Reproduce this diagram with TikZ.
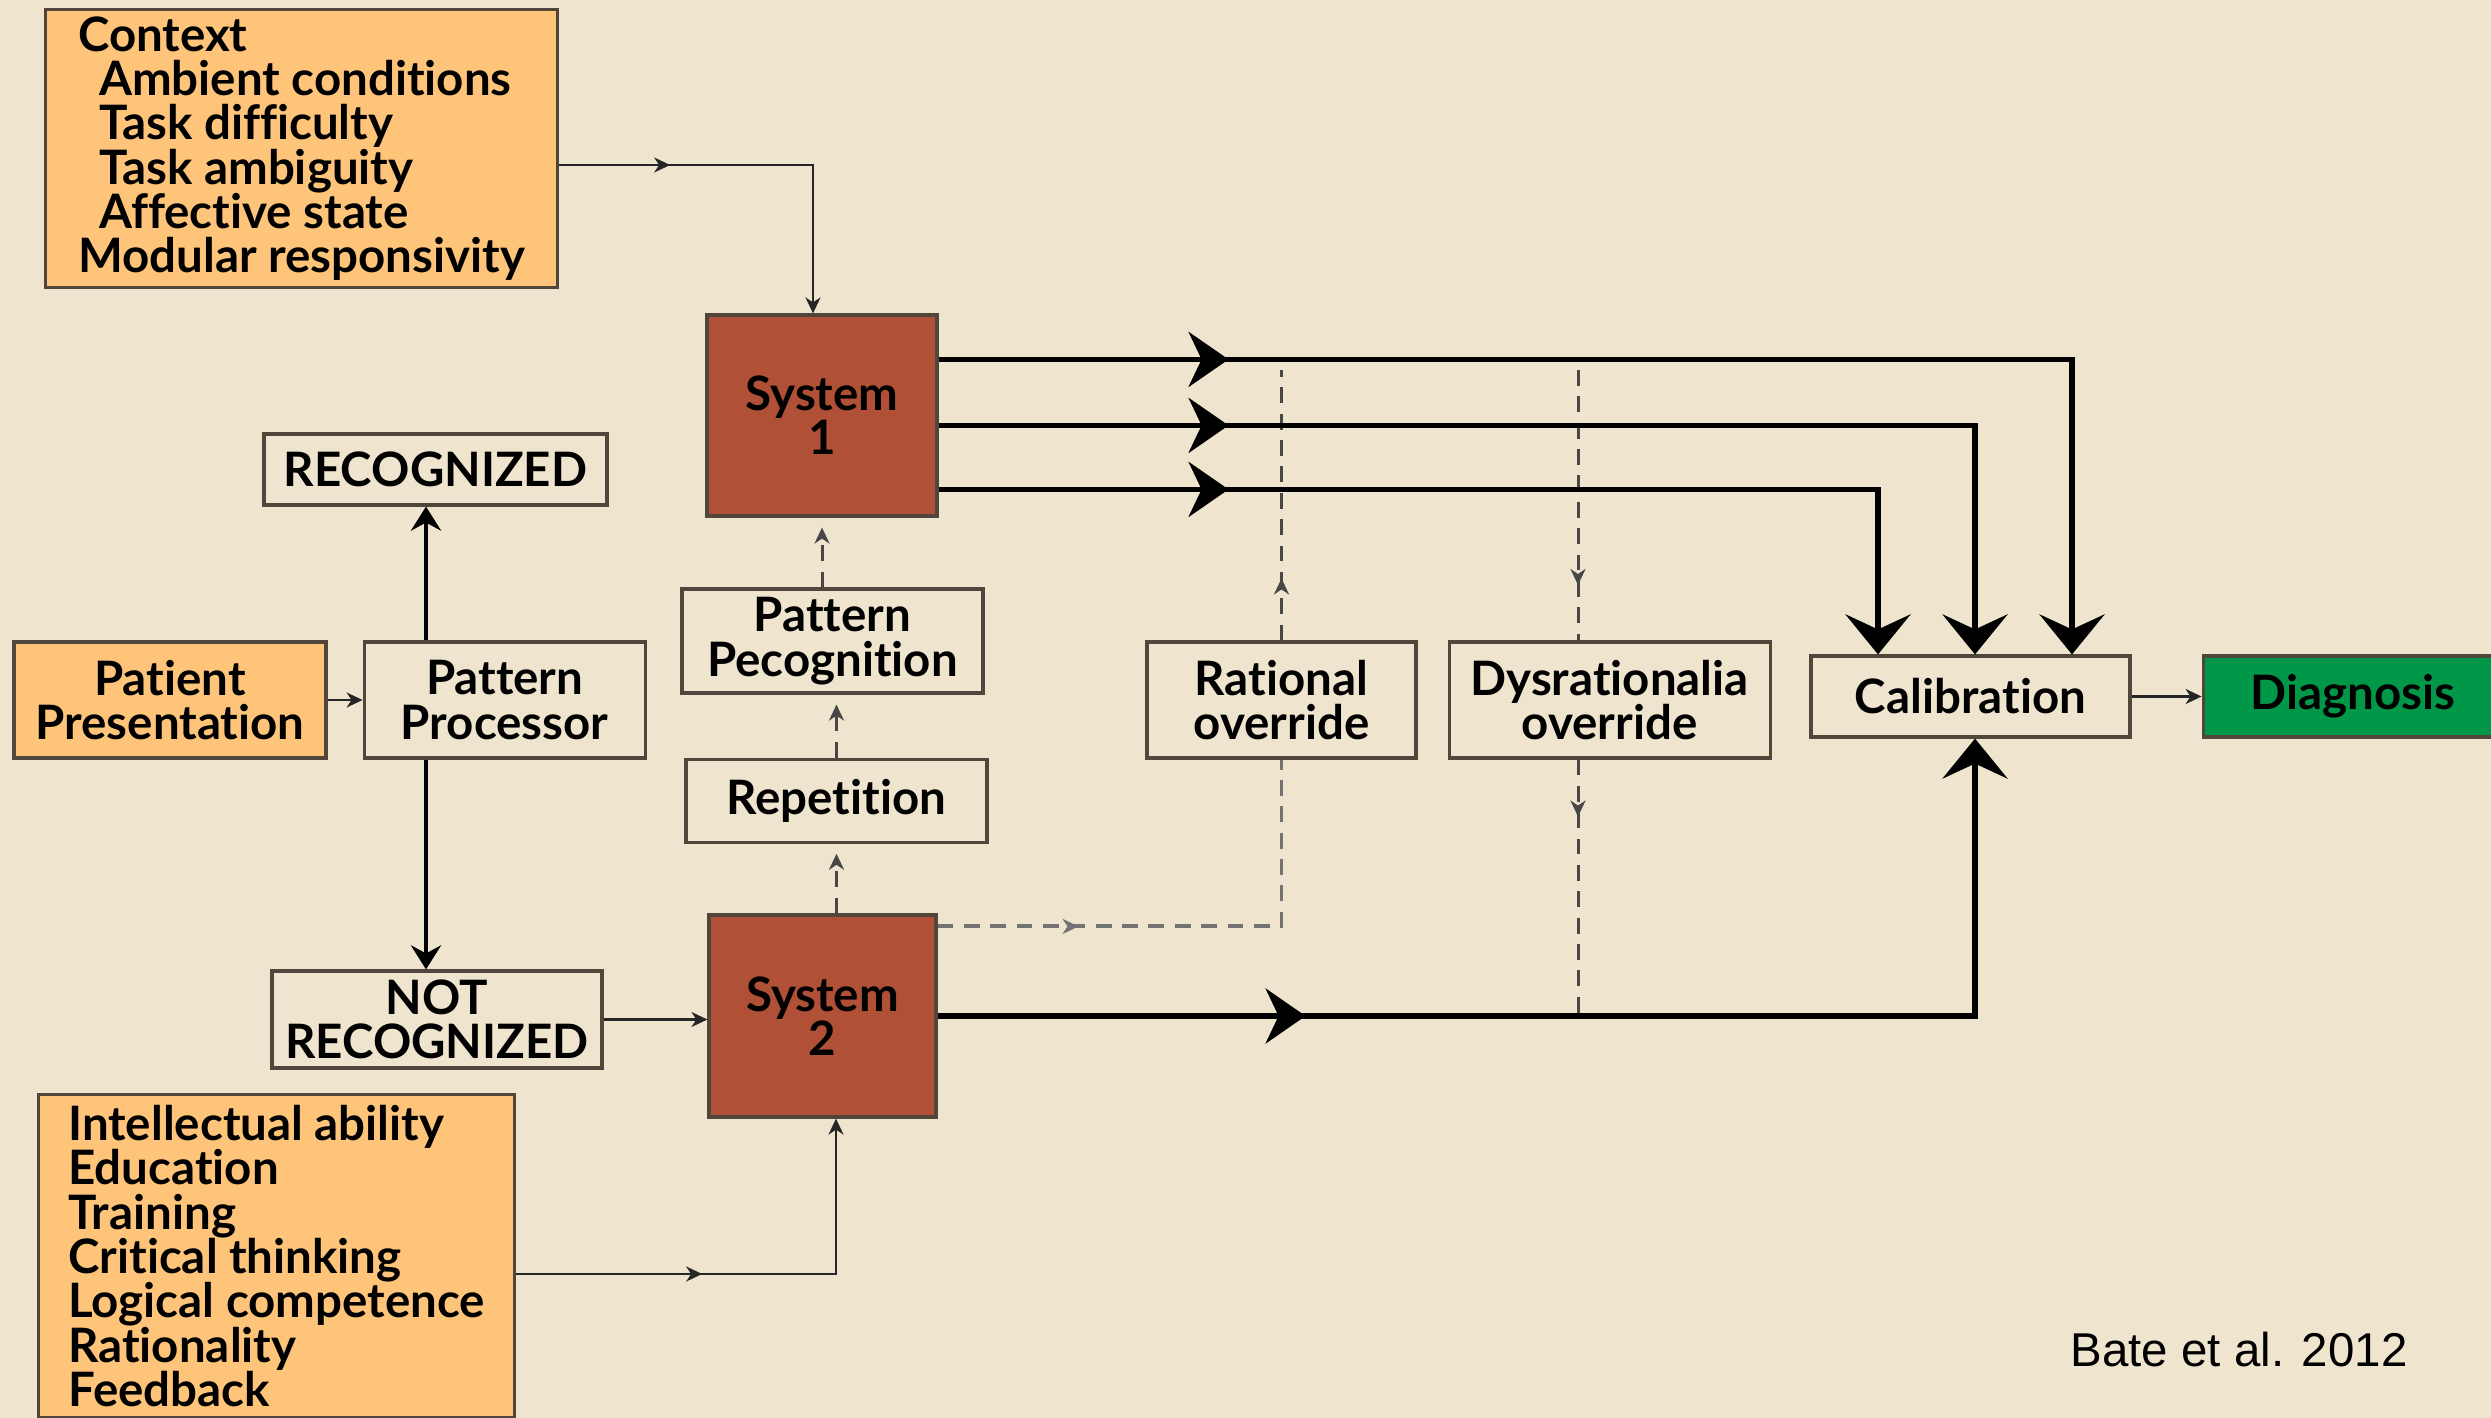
\documentclass[tikz,border=0pt]{standalone}
\usepackage{fontspec}
\setmainfont{Lato}[Ligatures={NoCommon}]
\newfontfamily\batefont{Liberation Sans}
\usetikzlibrary{calc}
\usetikzlibrary{arrows.meta}
\usetikzlibrary{positioning}
\usetikzlibrary{decorations.markings}
\definecolor{parchment}{RGB}{239, 229, 207}
\definecolor{apricot}{RGB}{254, 196, 122}
\definecolor{brick}{RGB}{176, 80, 54}
\definecolor{leaf}{RGB}{0, 152, 72}
\definecolor{edge}{RGB}{80, 70, 60}
\newcommand{\boxfont}{\fontsize{13.5}{12.6}\selectfont\bfseries}

\begin{document}
\begin{tikzpicture}[
    box/.style={draw=edge, line width=0.9pt, fill=parchment, font=\boxfont, align=center, inner sep=0pt},
    orangebox/.style={box, fill=apricot},
    sysbox/.style={box, fill=brick},
    thinline/.style={draw=black!85, line width=0.65pt},
    medline/.style={draw=black, line width=1.2pt},
    heavyline/.style={draw=black, line width=1.6pt},
    dashline/.style={draw=black!72, line width=0.85pt, dash pattern=on 4.5pt off 3pt},
    smallhead/.tip={Stealth[length=1.6mm, width=1.5mm, inset=0.5mm]},
    medhead/.tip={Stealth[length=2.4mm, width=3mm, inset=0.8mm]},
    midhead/.tip={Stealth[length=4mm, width=5.5mm, inset=1.3mm]},
    calhead/.tip={Stealth[length=4mm, width=6.5mm, inset=1.5mm]},
    smallmid/.style={postaction={decorate}, decoration={markings, mark=at position #1 with {\arrow{smallhead}}}},
    bigmid/.style={postaction={decorate}, decoration={markings, mark=at position #1 with {\arrow{midhead}}}}
  ]
  \useasboundingbox (0,0) rectangle (24.91,-14.18);
  \fill[parchment] (0,0) rectangle (24.91,-14.18);

  \node[orangebox, align=left, anchor=north west, minimum width=5.12cm, minimum height=2.78cm] (ctx) at (0.44,-0.08)
       {Context\\\hspace*{2.1mm}Ambient conditions\\\hspace*{2.1mm}Task difficulty\\\hspace*{2.1mm}Task ambiguity\\\hspace*{2.1mm}Affective state\\Modular responsivity};
  \node[sysbox, minimum width=2.30cm, minimum height=2.01cm]                      (s1)     at (8.22,-4.155)  {System\\1};
  \node[box,    minimum width=3.43cm, minimum height=0.71cm]                      (rec)    at (4.355,-4.695) {RECOGNIZED};
  \node[orangebox, minimum width=3.12cm, minimum height=1.16cm]                   (pat)    at (1.70,-7.00)   {Patient\\Presentation};
  \node[box,    minimum width=2.81cm, minimum height=1.16cm, right=0.35cm of pat] (proc)                     {Pattern\\Processor};
  \node[box,    minimum width=3.01cm, minimum height=1.04cm]                      (prec)   at (8.325,-6.41)  {Pattern\\Pecognition};
  \node[box,    minimum width=3.01cm, minimum height=0.83cm, below=0.63cm of prec, xshift=0.04cm] (rep)      {Repetition};
  \node[box,    minimum width=2.69cm, minimum height=1.16cm]                      (rat)    at (12.815,-7.00) {Rational\\override};
  \node[box,    minimum width=3.21cm, minimum height=1.16cm, right=0.30cm of rat] (dys)                      {Dysrationalia\\override};
  \node[box,    minimum width=3.19cm, minimum height=0.81cm]                      (cal)    at (19.705,-6.965) {Calibration};
  \node[box, fill=leaf, minimum width=3.00cm, minimum height=0.81cm, right=0.70cm of cal] (diag)             {Diagnosis};
  \node[box,    minimum width=3.30cm, minimum height=0.97cm]                      (notrec) at (4.37,-10.195) {NOT\\RECOGNIZED};
  \node[sysbox, minimum width=2.27cm, minimum height=2.02cm]                      (s2)     at (8.225,-10.16) {System\\2};
  \node[orangebox, align=left, anchor=north west, minimum width=4.76cm, minimum height=3.23cm] (skill) at (0.37,-10.93)
       {Intellectual ability\\Education\\Training\\Critical thinking\\Logical competence\\Rationality\\Feedback};
  \node[font=\batefont\fontsize{13.5}{16}\selectfont, anchor=west, inner sep=0pt] (cite) at (20.70,-13.50) {Bate et al. 2012};

  % inputs
  \draw[thinline, smallmid=1.11cm, -{smallhead}] ($(ctx.north east)+(0,-1.57)$) -| ($(s1.north)+(-0.09,0)$);
  \draw[thinline, smallmid=1.86cm, -{smallhead}] ($(skill.north east)+(0,-1.81)$) -| ($(s2.south)+(0.135,0)$);
  \draw[thinline, -{smallhead}] (pat) -- (proc);
  \draw[thinline, -{smallhead}] (notrec.east) -- (notrec.east -| s2.west);
  \draw[thinline, -{smallhead}] (cal) -- (diag);

  % recognition
  \coordinate (fork) at (4.26,0);
  \draw[medline, -{medhead}] (fork |- proc.north) -- (fork |- rec.south);
  \draw[medline, -{medhead}] (fork |- proc.south) -- (fork |- notrec.north);

  % dashed routes
  \coordinate (ovtop) at (0,-3.70);
  \coordinate (dysx)  at (15.78,0);
  \draw[dashline, -{smallhead}, shorten >=1mm] (s1.south |- prec.north) -- (s1.south);
  \draw[dashline, -{smallhead}, shorten >=1mm] (rep.north) -- (rep.north |- prec.south);
  \draw[dashline, -{smallhead}, shorten >=1mm] (rep.south |- s2.north) -- (rep.south);
  \draw[dashline, draw=black!55, line width=1.1pt, smallmid=1.41cm] ($(s2.north east)+(0,-0.13)$) -| (rat.south);
  \draw[dashline, smallmid=0.62cm] (rat.north) -- (rat.north |- ovtop);
  \draw[dashline, smallmid=2.15cm] (dysx |- ovtop) -- (dysx |- dys.north);
  \draw[dashline, smallmid=0.57cm] (dysx |- dys.south) -- (dysx |- s2.east);

  % to calibration
  \draw[heavyline, bigmid=2.9cm, -{calhead}]  ($(s1.north east)+(0,-0.46)$) -| ($(cal.north)+(1.015,0)$);
  \draw[heavyline, bigmid=2.9cm, -{calhead}]  ($(s1.north east)+(0,-1.12)$) -| ($(cal.north)+(0.045,0)$);
  \draw[heavyline, bigmid=2.9cm, -{calhead}]  ($(s1.north east)+(0,-1.76)$) -| ($(cal.north)+(-0.925,0)$);
  \draw[heavyline, bigmid=3.68cm, -{calhead}] (s2.east) -| ($(cal.south)+(0.045,0)$);
\end{tikzpicture}
\end{document}
